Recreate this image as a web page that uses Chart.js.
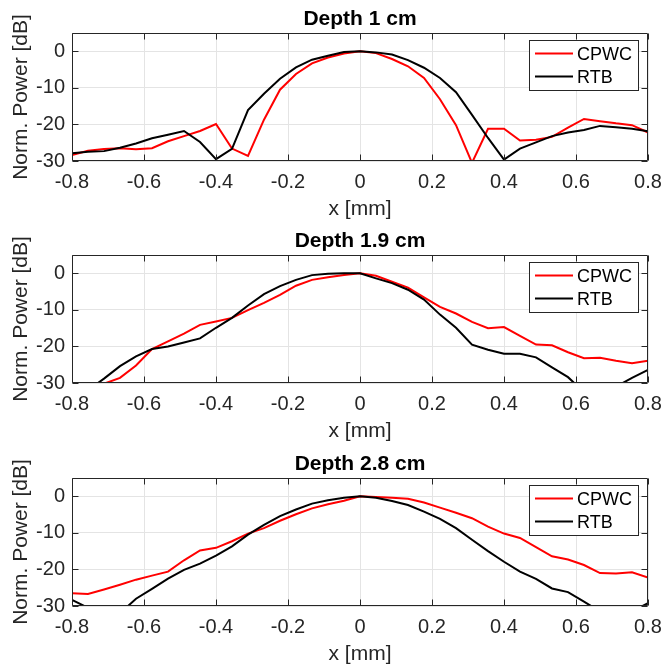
<!DOCTYPE html>
<html><head><meta charset="utf-8">
<script src="https://cdn.jsdelivr.net/npm/chart.js@4.4.1/dist/chart.umd.min.js"></script>
<style>
html,body{margin:0;padding:0;background:#fff;}
#wrap{position:relative;width:661px;height:671px;background:#fff;}
canvas{position:absolute;left:0;}
</style></head><body>
<div id="wrap">
<canvas id="c1" width="661" height="223" style="top:0px"></canvas>
<canvas id="c2" width="661" height="223" style="top:222px"></canvas>
<canvas id="c3" width="661" height="223" style="top:445px"></canvas>
</div>
<script>
// ---- data ----
const xPositions = [-0.8,-0.7556,-0.7111,-0.6667,-0.6222,-0.5778,-0.5333,-0.4889,-0.4444,-0.4,-0.3556,-0.3111,-0.2667,-0.2222,-0.1778,-0.1333,-0.0889,-0.0444,0,0.0444,0.0889,0.1333,0.1778,0.2222,0.2667,0.3111,0.3556,0.4,0.4444,0.4889,0.5333,0.5778,0.6222,0.6667,0.7111,0.7556,0.8];
const xTickValues = [-0.8,-0.6,-0.4,-0.2,0,0.2,0.4,0.6,0.8];
const yTickValues = [-30,-20,-10,0];
const seriesNames = ['CPWC','RTB'];
const panelTitles = ['Depth 1 cm','Depth 1.9 cm','Depth 2.8 cm'];

const cpwcDepth1 = [-28.4,-27.2,-26.7,-26.5,-26.8,-26.5,-24.6,-23.2,-21.8,-19.9,-26.6,-28.6,-18.7,-10.5,-6.2,-3.3,-1.7,-0.6,0,
  -0.5,-2.1,-4.1,-7.3,-13.1,-20.2,-30.5,-21.2,-21.2,-24.4,-24.2,-23.4,-20.9,-18.5,-19.1,-19.7,-20.2,-22.2];
const rtbDepth1 = [-27.9,-27.5,-27.3,-26.4,-25.2,-23.8,-22.8,-21.8,-24.8,-29.5,-26.7,-16.1,-11.6,-7.5,-4.4,-2.3,-1.2,-0.2,0,
  -0.3,-0.9,-2.4,-4.5,-7.3,-11.2,-17.4,-23.7,-29.6,-26.6,-24.9,-23.2,-22.2,-21.5,-20.4,-20.8,-21.2,-21.9];

const cpwcDepth19 = [-34,-32.5,-30.2,-28.6,-25.2,-20.7,-18.6,-16.5,-14.1,-13.2,-12.2,-10.1,-8.1,-5.9,-3.4,-1.8,-1.1,-0.5,0,
  -0.7,-2.3,-3.9,-6.6,-9.2,-11,-13.3,-15,-14.7,-17.1,-19.5,-19.7,-21.6,-23.2,-23.1,-23.9,-24.6,-23.9];
const rtbDepth19 = [-35,-32,-28.8,-25.4,-22.7,-20.7,-20,-18.9,-17.8,-14.9,-12.2,-8.8,-5.7,-3.5,-1.8,-0.5,-0.1,0,0,
  -1.4,-2.7,-4.5,-7.2,-11.3,-14.9,-19.5,-20.9,-22,-22,-23,-25.7,-28.4,-32.5,-34,-31,-28.6,-26.4];

const cpwcDepth28 = [-26.5,-26.7,-25.5,-24.2,-22.8,-21.7,-20.6,-17.5,-14.8,-14.1,-12.3,-10.2,-8.7,-6.7,-4.9,-3.3,-2.2,-1.2,0,
  -0.2,-0.4,-0.7,-1.7,-3.1,-4.5,-6.0,-8.3,-10.2,-11.4,-13.9,-16.4,-17.3,-18.8,-21,-21.1,-20.8,-22.2];
const rtbDepth28 = [-28.3,-30.5,-33,-32,-28,-25.3,-22.5,-20.1,-18.4,-16.2,-13.7,-10.5,-7.8,-5.4,-3.6,-2.0,-1.1,-0.4,0,
  -0.4,-1.3,-2.4,-4.2,-6.2,-8.7,-11.9,-15,-17.9,-20.6,-22.6,-25.2,-26.2,-28.8,-31.5,-32,-31.5,-29.2];

const panels = [
  {canvas:'c1', title:panelTitles[0], cpwc:cpwcDepth1, rtb:rtbDepth1},
  {canvas:'c2', title:panelTitles[1], cpwc:cpwcDepth19, rtb:rtbDepth19},
  {canvas:'c3', title:panelTitles[2], cpwc:cpwcDepth28, rtb:rtbDepth28}
];

const FONT = '"Liberation Sans", Arial, Helvetica, sans-serif';
const AXIS_COLOR = '#262626';
const seriesColors = ['#ff0000', '#000000'];

const framePlugin = {
  id: 'frame',
  afterDraw(chart, args, opts) {
    const {ctx, chartArea: a, scales: {x, y}} = chart;
    ctx.save();
    ctx.strokeStyle = AXIS_COLOR;
    ctx.lineWidth = 1;
    const L = Math.round(a.left) + 0.5, R = Math.round(a.right) - 0.5;
    const T = Math.round(a.top) + 0.5, B = Math.round(a.bottom) - 0.5;
    ctx.beginPath();
    ctx.rect(L, T, R - L, B - T);
    ctx.stroke();
    const tl = 6;
    ctx.beginPath();
    xTickValues.forEach(v => {
      const px = Math.round(x.getPixelForValue(v)) + 0.5;
      ctx.moveTo(px, B); ctx.lineTo(px, B - tl);
      ctx.moveTo(px, T); ctx.lineTo(px, T + tl);
    });
    yTickValues.forEach(v => {
      const py = Math.round(y.getPixelForValue(v)) + 0.5;
      ctx.moveTo(L, py); ctx.lineTo(L + tl, py);
      ctx.moveTo(R, py); ctx.lineTo(R - tl, py);
    });
    ctx.stroke();
    ctx.fillStyle = '#000';
    ctx.font = 'bold 21px ' + FONT;
    ctx.textAlign = 'center';
    ctx.textBaseline = 'alphabetic';
    ctx.fillText(opts.title, (a.left + a.right) / 2, a.top - 8);
    const lx0 = a.right - 118.5, lx1 = a.right - 9.5;
    const ly0 = a.top + 7.5, ly1 = a.top + 57.5;
    ctx.fillStyle = '#fff';
    ctx.fillRect(lx0, ly0, lx1 - lx0, ly1 - ly0);
    ctx.strokeStyle = AXIS_COLOR;
    ctx.lineWidth = 1;
    ctx.strokeRect(lx0, ly0, lx1 - lx0, ly1 - ly0);
    ctx.font = '18px ' + FONT;
    ctx.textAlign = 'left';
    chart.data.datasets.forEach((ds, i) => {
      const ly = a.top + 20.5 + i * 23;
      ctx.strokeStyle = ds.borderColor;
      ctx.lineWidth = 2;
      ctx.beginPath();
      ctx.moveTo(a.right - 113, ly);
      ctx.lineTo(a.right - 75, ly);
      ctx.stroke();
      ctx.fillStyle = '#000';
      ctx.fillText(ds.label, a.right - 71, ly + 6.5);
    });
    ctx.restore();
  }
};

panels.forEach(p => {
  const makeData = vals => xPositions.map((xv, i) => ({x: xv, y: vals[i]}));
  new Chart(document.getElementById(p.canvas), {
    type: 'line',
    data: {
      datasets: [
        {label: seriesNames[0], data: makeData(p.cpwc), borderColor: seriesColors[0], backgroundColor: seriesColors[0],
         borderWidth: 2, pointRadius: 0, tension: 0, fill: false, order: 1},
        {label: seriesNames[1], data: makeData(p.rtb), borderColor: seriesColors[1], backgroundColor: seriesColors[1],
         borderWidth: 2, pointRadius: 0, tension: 0, fill: false, order: 0}
      ]
    },
    options: {
      responsive: false,
      animation: false,
      devicePixelRatio: 1,
      layout: {padding: {left: 0, right: 13, top: 33, bottom: 0}},
      plugins: {
        legend: {display: false},
        tooltip: {enabled: false},
        title: {display: false},
        frame: {title: p.title}
      },
      scales: {
        x: {
          type: 'linear', min: -0.8, max: 0.8,
          afterBuildTicks: s => { s.ticks = xTickValues.map(v => ({value: v})); },
          afterFit: s => { s.height = 62; s.paddingLeft = 0; s.paddingRight = 0; },
          grid: {color: '#e4e4e4', lineWidth: 1, drawTicks: false, tickLength: 0},
          border: {display: false},
          ticks: {
            autoSkip: false, maxRotation: 0, minRotation: 0, padding: 9,
            color: AXIS_COLOR, font: {family: FONT, size: 20},
            callback: v => String(Math.round(v * 10) / 10)
          },
          title: {display: true, text: 'x [mm]', color: AXIS_COLOR, font: {family: FONT, size: 21}, padding: {top: 0, bottom: 1}}
        },
        y: {
          type: 'linear', min: -30, max: 5,
          afterBuildTicks: s => { s.ticks = yTickValues.map(v => ({value: v})); },
          afterFit: s => { s.width = 72; s.paddingTop = 0; s.paddingBottom = 0; },
          grid: {color: '#e4e4e4', lineWidth: 1, drawTicks: false, tickLength: 0},
          border: {display: false},
          ticks: {
            autoSkip: false, padding: 7,
            color: AXIS_COLOR, font: {family: FONT, size: 20},
            callback: v => String(v)
          },
          title: {display: true, text: 'Norm. Power [dB]', color: AXIS_COLOR, font: {family: FONT, size: 21}, padding: {top: 9, bottom: 0}}
        }
      }
    },
    plugins: [framePlugin]
  });
});
</script>
</body></html>
